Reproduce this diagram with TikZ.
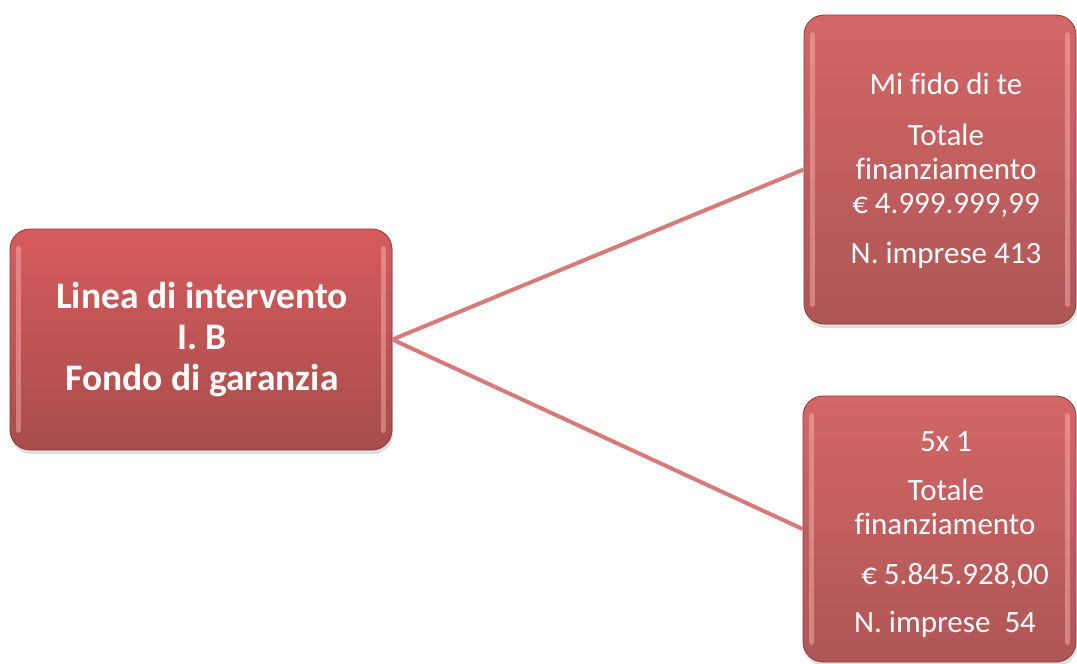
\documentclass[tikz,border=0pt]{standalone}
\usepackage{fontspec}
\setmainfont{Carlito}[Ligatures=NoCommon]
\usetikzlibrary{shadows}
\definecolor{boxtop}{RGB}{214,92,92}
\definecolor{boxbot}{RGB}{168,76,76}
\definecolor{rtop}{RGB}{212,102,102}
\definecolor{rbot}{RGB}{174,86,86}
\definecolor{boxedge}{RGB}{140,60,60}
\definecolor{linkc}{RGB}{214,122,122}
\definecolor{hlc}{RGB}{255,185,185}
\tikzset{
  box/.style={draw=boxedge, line width=0.8pt, rounded corners=20pt, inner sep=0pt,
    top color=#1top, bottom color=#1bot,
    drop shadow={opacity=0.25, shadow xshift=1pt, shadow yshift=-4pt}},
  hl/.style={draw=hlc, line width=5pt, opacity=0.45, line cap=round},
  link/.style={draw=linkc, line width=4pt},
  bigtxt/.style={text=white, font=\bfseries\fontsize{37.5}{41}\selectfont, anchor=base, inner sep=0pt},
  smtxt/.style={text=white, font=\fontsize{31}{34}\selectfont, anchor=base, inner sep=0pt},
}
\begin{document}
\begin{tikzpicture}[x=1pt,y=-1pt]
\useasboundingbox (0,0) rectangle (1077,664);
\node[box=box, minimum width=382pt, minimum height=221pt] (left) at (201,339.5) {};
\node[box=r, minimum width=272pt, minimum height=309pt] (top) at (940,169.5) {};
\node[box=r, minimum width=273pt, minimum height=266pt] (bot) at (939.5,529) {};
\draw[link] (left.east) -- (top.west);
\draw[link] (left.east) -- (bot.west);
% highlights
\draw[hl] ([xshift=9pt,yshift=-20pt]left.north west) -- ([xshift=9pt,yshift=20pt]left.south west);
\draw[hl] ([xshift=-9pt,yshift=-20pt]left.north east) -- ([xshift=-9pt,yshift=20pt]left.south east);
\draw[hl] ([xshift=9pt,yshift=-20pt]top.north west) -- ([xshift=9pt,yshift=20pt]top.south west);
\draw[hl] ([xshift=-9pt,yshift=-20pt]top.north east) -- ([xshift=-9pt,yshift=20pt]top.south east);
\draw[hl] ([xshift=9pt,yshift=-20pt]bot.north west) -- ([xshift=9pt,yshift=20pt]bot.south west);
\draw[hl] ([xshift=-9pt,yshift=-20pt]bot.north east) -- ([xshift=-9pt,yshift=20pt]bot.south east);
% left texts
\node[bigtxt] (l1) at (202,308) {Linea di intervento};
\node[bigtxt] (l2) at (202,349) {I. B};
\node[bigtxt] (l3) at (202,390) {Fondo di garanzia};
% top right texts
\node[smtxt] (a1) at (946,94) {Mi fido di te};
\node[smtxt] (a2) at (946,145) {Totale};
\node[smtxt] (a3) at (946,179) {finanziamento};
\node[smtxt] (a4) at (946,213) {€ 4.999.999,99};
\node[smtxt] (a5) at (946,263) {N. imprese 413};
% bottom right texts
\node[smtxt] (b1) at (946,451) {5x 1};
\node[smtxt] (b2) at (946,500) {Totale};
\node[smtxt] (b3) at (945,534) {finanziamento};
\node[smtxt] (b4) at (955,584) {€ 5.845.928,00};
\node[smtxt] (b5) at (945,632) {N. imprese\ \ 54};
\end{tikzpicture}
\end{document}
